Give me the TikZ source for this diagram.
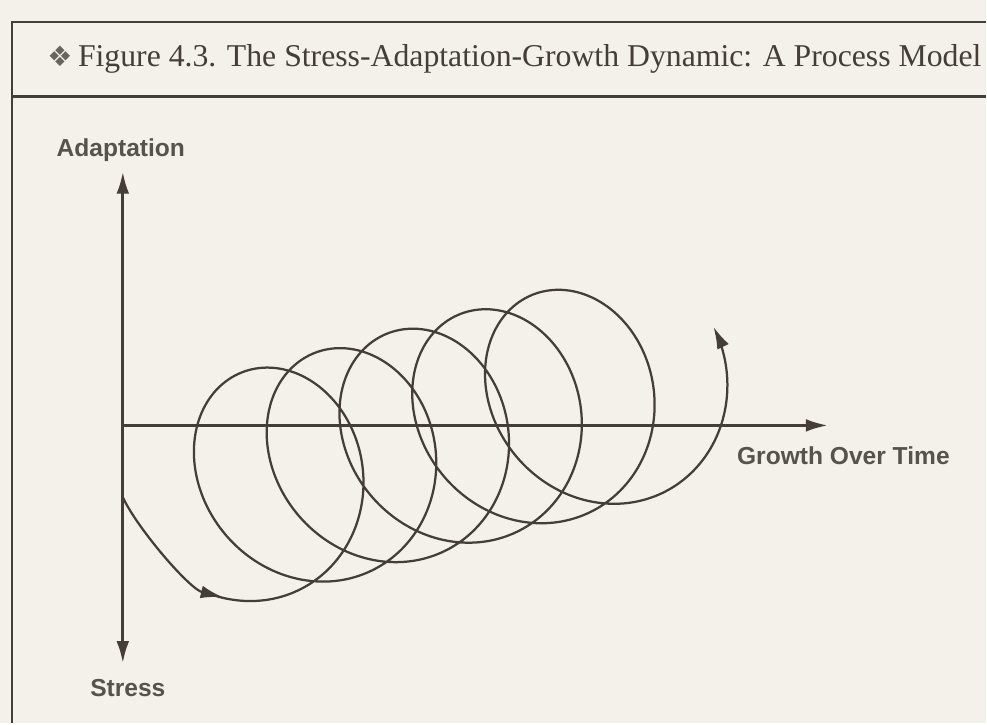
\documentclass[tikz,border=0pt]{standalone}
\usepackage{fontspec}
\setmainfont{Liberation Serif}
\newfontfamily\labelfont{Liberation Sans}
\newfontfamily\symfont{DejaVu Sans}
\usetikzlibrary{arrows.meta}
\definecolor{paper}{HTML}{F4F1EA}
\definecolor{ink}{HTML}{443E36}
\definecolor{lbl}{HTML}{57534C}
\tikzset{
  axislabel/.style={font=\labelfont\bfseries\fontsize{17.5}{20}\selectfont, text=lbl, inner sep=0pt},
  frame/.style={line width=2pt},
  >={Latex[length=0.55cm,width=0.32cm]}
}

\begin{document}
\begin{tikzpicture}[x=0.025cm, y=-0.025cm, line width=1.6pt, ink]
  \fill[paper] (0,0) rectangle (987,724);
  \draw[frame] (12,724) -- (12,22) -- (987,22);
  \draw[frame] (12,97) -- (987,97);
  \node[font=\symfont\fontsize{20}{20}\selectfont, text=ink!80] (mark) at (60,56) {❖};
  \node[anchor=base west, inner sep=0pt, font=\fontsize{22.6}{25}\selectfont] (title) at (77,67)
    {Figure 4.3. The Stress-Adaptation-Growth Dynamic: A Process Model};
  \coordinate (O) at (123,426);
  \coordinate (Ytop) at (123,172);
  \coordinate (Ybot) at (123,664);
  \coordinate (Xend) at (829,426);
  \draw[->, line width=2pt] (O) -- (Ytop);
  \draw[->, line width=2pt] (O) -- (Ybot);
  \draw[->, line width=2pt] (O) -- (Xend);
  \node[axislabel, anchor=base] (adapt) at (121,157) {Adaptation};
  \node[axislabel, anchor=base] (stress) at (128,697) {Stress};
  \node[axislabel, anchor=base west] (growth) at (737,465) {Growth Over Time};
  \coordinate (S) at (123,498);
  \coordinate (A) at (223,598);
  \draw[->] (S) .. controls (138,530) and (190,590) .. (A);
  \draw[->] plot[domain=-1.97:31.97, samples=400, smooth, variable=\t]
    ({262+11.6*\t+102*cos(\t r)-10*sin(\t r)}, {485-3.1*\t-112*sin(\t r)});
\end{tikzpicture}
\end{document}
